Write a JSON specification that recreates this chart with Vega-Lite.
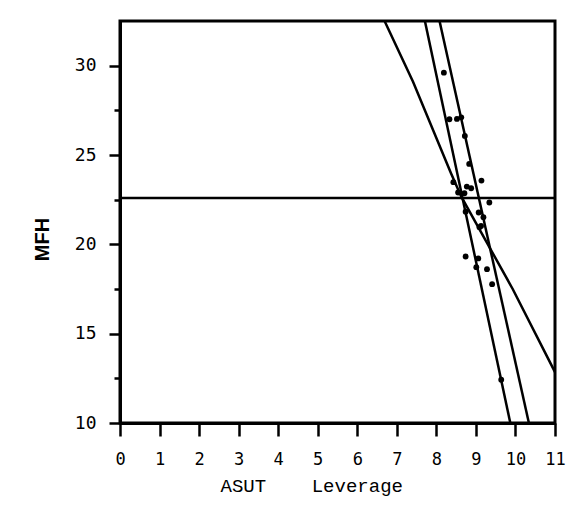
{
  "$schema": "https://vega.github.io/schema/vega-lite/v6.json",
  "width": 435,
  "height": 402,
  "autosize": "none",
  "padding": {"left": 120, "top": 21, "right": 22, "bottom": 106},
  "background": "white",
  "datasets": {
    "pts": [
      {"ASUT": 8.19, "MFH": 29.61}, {"ASUT": 8.33, "MFH": 27.0}, {"ASUT": 8.52, "MFH": 27.02},
      {"ASUT": 8.63, "MFH": 27.11}, {"ASUT": 8.72, "MFH": 26.07}, {"ASUT": 8.83, "MFH": 24.5},
      {"ASUT": 9.14, "MFH": 23.57}, {"ASUT": 8.43, "MFH": 23.48}, {"ASUT": 8.77, "MFH": 23.23},
      {"ASUT": 8.88, "MFH": 23.14}, {"ASUT": 8.55, "MFH": 22.9}, {"ASUT": 8.71, "MFH": 22.86},
      {"ASUT": 9.34, "MFH": 22.34}, {"ASUT": 8.74, "MFH": 21.83}, {"ASUT": 9.07, "MFH": 21.78},
      {"ASUT": 9.19, "MFH": 21.52}, {"ASUT": 9.09, "MFH": 20.96}, {"ASUT": 9.13, "MFH": 21.03},
      {"ASUT": 8.74, "MFH": 19.32}, {"ASUT": 9.06, "MFH": 19.21}, {"ASUT": 9.01, "MFH": 18.72},
      {"ASUT": 9.28, "MFH": 18.61}, {"ASUT": 9.41, "MFH": 17.77}, {"ASUT": 9.64, "MFH": 12.42}
    ],
    "curves": [
      {"s": "mean", "o": 1, "ASUT": 0, "MFH": 22.6},
      {"s": "mean", "o": 2, "ASUT": 11, "MFH": 22.6},
      {"s": "conf1", "o": 1, "ASUT": 6.69, "MFH": 32.5},
      {"s": "conf1", "o": 2, "ASUT": 7.41, "MFH": 29.1},
      {"s": "conf1", "o": 3, "ASUT": 8.37, "MFH": 23.98},
      {"s": "conf1", "o": 4, "ASUT": 8.63, "MFH": 22.67},
      {"s": "conf1", "o": 5, "ASUT": 9.93, "MFH": 17.5},
      {"s": "conf1", "o": 6, "ASUT": 11.0, "MFH": 12.85},
      {"s": "conf2", "o": 1, "ASUT": 7.71, "MFH": 32.5},
      {"s": "conf2", "o": 2, "ASUT": 9.87, "MFH": 10.0},
      {"s": "fit", "o": 1, "ASUT": 8.08, "MFH": 32.5},
      {"s": "fit", "o": 2, "ASUT": 10.34, "MFH": 10.0}
    ]
  },
  "encoding": {
    "x": {"field": "ASUT", "type": "quantitative", "scale": {"domain": [0, 11], "nice": false, "zero": false},
      "axis": {"values": [0,1,2,3,4,5,6,7,8,9,10,11], "labelOverlap": false, "labelFlush": false, "title": "ASUT\u00a0\u00a0\u00a0\u00a0Leverage", "titleFont": "Liberation Mono", "titleFontSize": 19, "titleFontWeight": "normal", "titleAlign": "left", "titleAnchor": "start", "titleX": 100, "titleY": 62, "titleBaseline": "middle",
        "labelFont": "DejaVu Sans Mono", "labelFontSize": 17, "tickSize": 13, "labelPadding": 15}}
  },
  "layer": [
    {
      "data": {"name": "curves"},
      "mark": {"type": "line", "color": "black", "strokeWidth": 2.5, "clip": true},
      "encoding": {
        "y": {"field": "MFH", "type": "quantitative", "scale": {"domain": [10, 32.5], "nice": false, "zero": false},
          "axis": {"orient": "left", "values": [10, 15, 20, 25, 30], "labelOverlap": false, "labelFlush": false, "title": "MFH", "titleFont": "Liberation Sans", "titleFontSize": 20, "titleFontWeight": "bold", "titleX": -78, "titleY": 218, "titleAlign": "center", "titleBaseline": "middle",
            "labelFont": "DejaVu Sans Mono", "labelFontSize": 18, "tickSize": 11, "labelPadding": 13}},
        "detail": {"field": "s"},
        "order": {"field": "o"}
      }
    },
    {
      "data": {"name": "pts"},
      "mark": {"type": "circle", "color": "black", "size": 34, "opacity": 1},
      "encoding": {
        "y": {"field": "MFH", "type": "quantitative",
          "axis": {"orient": "left", "values": [12.5, 17.5, 22.5, 27.5], "labels": false, "title": null, "tickSize": 6, "domain": false}}
      }
    }
  ],
  "resolve": {"axis": {"y": "independent"}},
  "config": {
    "view": {"stroke": "black", "strokeWidth": 3},
    "axis": {"grid": false, "domainColor": "black", "domainWidth": 3, "tickColor": "black", "tickWidth": 2.5, "labelColor": "black", "titleColor": "black"}
  }
}
